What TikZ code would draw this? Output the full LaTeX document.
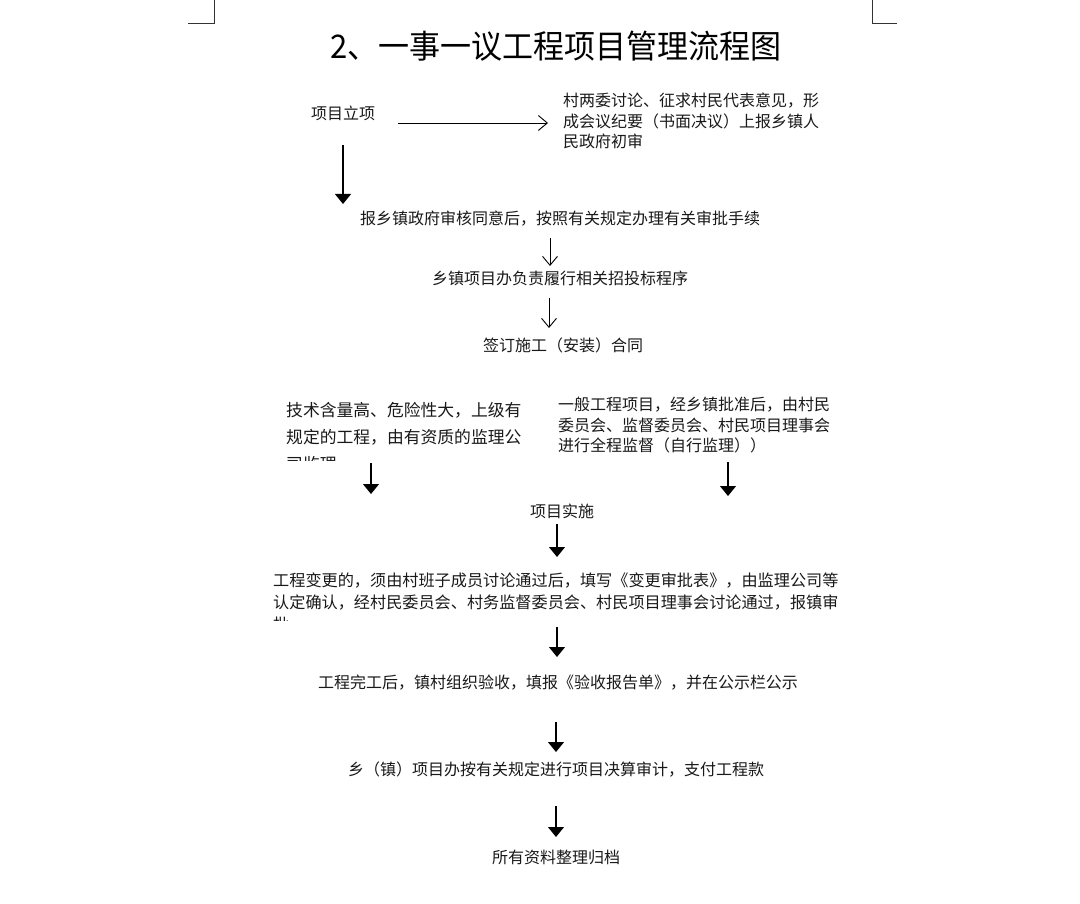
\documentclass[tikz,border=0pt]{standalone}
\usepackage{fontspec}
\setmainfont{Noto Sans CJK SC}
\usetikzlibrary{arrows.meta}
\tikzset{
  txt/.style={inner sep=0pt, font=\fontsize{16}{20.5}\selectfont, text=black!90},
  fillarrow/.style={line width=1.2pt, -{Triangle[width=16pt,length=10pt]}},
  openarrow/.style={line width=0.9pt, -{Straight Barb[length=9pt,width=15pt,line width=0.9pt]}},
  cornermark/.style={line width=1pt, black!80}
}
\begin{document}
\begin{tikzpicture}[x=1pt,y=-1pt]
\useasboundingbox[fill=white] (0,0) rectangle (1080,904);
% corner marks
\coordinate (tl1) at (214,0); \coordinate (tl2) at (214,24); \coordinate (tl3) at (188,24);
\coordinate (tr1) at (872,0); \coordinate (tr2) at (872,24); \coordinate (tr3) at (897,24);
\draw[cornermark] (tl1) -- (tl2) -- (tl3);
\draw[cornermark] (tr1) -- (tr2) -- (tr3);
% title
\node[inner sep=0pt, font=\fontsize{31}{38}\selectfont, yscale=1.05] (title) at (556,46) {2、一事一议工程项目管理流程图};
% nodes
\node[txt] (lixiang) at (343,113) {项目立项};
\node[txt, align=left, anchor=north west] (cun) at (563,93) {村两委讨论、征求村民代表意见，形\\成会议纪要（书面决议）上报乡镇人\\民政府初审};
\node[txt] (bao) at (560,219) {报乡镇政府审核同意后，按照有关规定办理有关审批手续};
\node[txt] (zhaobiao) at (560,278) {乡镇项目办负责履行相关招投标程序};
\node[txt] (hetong) at (563,345) {签订施工（安装）合同};
\begin{scope}
\clip (270,395) rectangle (540,460);
\node[txt, font=\fontsize{16.8}{27}\selectfont, align=left, anchor=north west] (jishu) at (286,402) {技术含量高、危险性大，上级有\\规定的工程，由有资质的监理公\\司监理};
\end{scope}
\node[txt, align=left, anchor=north west] (yiban) at (558,397) {一般工程项目，经乡镇批准后，由村民\\委员会、监督委员会、村民项目理事会\\进行全程监督（自行监理））};
\node[txt] (shishi) at (562,511) {项目实施};
\begin{scope}
\clip (260,565) rectangle (860,620);
\node[txt, font=\fontsize{16.15}{22}\selectfont, align=left, anchor=north west] (biangeng) at (273,573) {工程变更的，须由村班子成员讨论通过后，填写《变更审批表》，由监理公司等\\认定确认，经村民委员会、村务监督委员会、村民项目理事会讨论通过，报镇审\\批};
\end{scope}
\node[txt] (wangong) at (558,683) {工程完工后，镇村组织验收，填报《验收报告单》，并在公示栏公示};
\node[txt] (juesuan) at (556,770) {乡（镇）项目办按有关规定进行项目决算审计，支付工程款};
\node[txt] (guidang) at (556,857) {所有资料整理归档};
% arrow endpoints
\coordinate (a1s) at (398,123); \coordinate (a1e) at (548,123);
\coordinate (a2s) at (343,145); \coordinate (a2e) at (343,204);
\coordinate (a3s) at (550,238); \coordinate (a3e) at (550,266);
\coordinate (a4s) at (549,298); \coordinate (a4e) at (549,328);
\coordinate (a5s) at (371,463); \coordinate (a5e) at (371,494);
\coordinate (a6s) at (728,462); \coordinate (a6e) at (728,496);
\coordinate (a7s) at (557,524); \coordinate (a7e) at (557,557);
\coordinate (a8s) at (557,627); \coordinate (a8e) at (557,657);
\coordinate (a9s) at (556,722); \coordinate (a9e) at (556,752);
\coordinate (a10s) at (556,806); \coordinate (a10e) at (556,837);
% arrows
\draw[openarrow] (a1s) -- (a1e);
\draw[fillarrow] (a2s) -- (a2e);
\draw[openarrow] (a3s) -- (a3e);
\draw[openarrow] (a4s) -- (a4e);
\draw[fillarrow] (a5s) -- (a5e);
\draw[fillarrow] (a6s) -- (a6e);
\draw[fillarrow] (a7s) -- (a7e);
\draw[fillarrow] (a8s) -- (a8e);
\draw[fillarrow] (a9s) -- (a9e);
\draw[fillarrow] (a10s) -- (a10e);
\end{tikzpicture}
\end{document}
